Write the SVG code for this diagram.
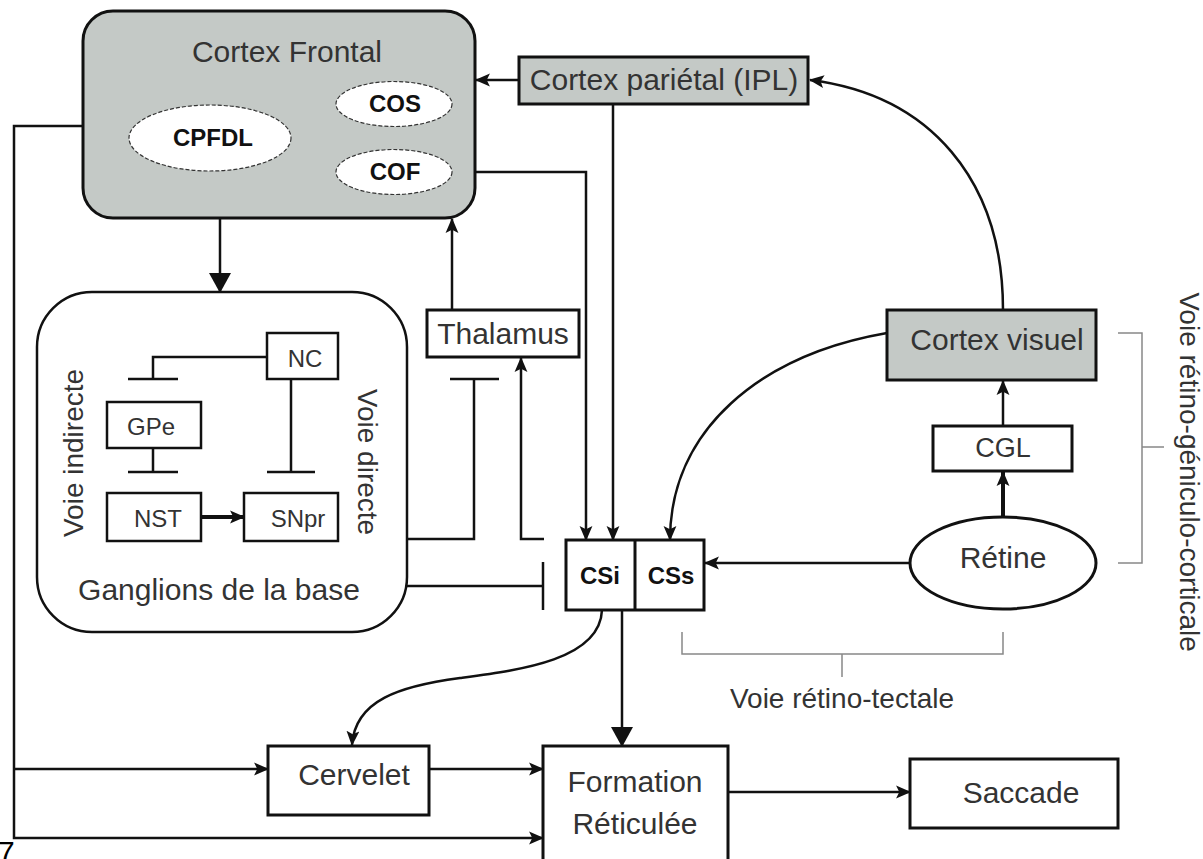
<svg xmlns="http://www.w3.org/2000/svg" width="1203" height="859" viewBox="0 0 1203 859">
<defs>
<style>
text{font-family:"Liberation Sans",Arial,Helvetica,sans-serif;fill:#333;}
.t30{font-size:30px;text-anchor:middle;}
.t24{font-size:24px;text-anchor:middle;}
.b24{font-size:24px;font-weight:bold;text-anchor:middle;fill:#111;}
.t28{font-size:28px;text-anchor:middle;}
.box{fill:#fff;stroke:#111;stroke-width:3;}
.gbox{fill:#c4c9c6;stroke:#111;stroke-width:3;}
.sbox{fill:#fff;stroke:#111;stroke-width:2.5;}
.ell{fill:#fff;stroke:#333;stroke-width:1.2;stroke-dasharray:4 2;}
.ln{fill:none;stroke:#111;stroke-width:2.5;}
.thk{fill:none;stroke:#111;stroke-width:4;}
.gr{fill:none;stroke:#888;stroke-width:1.5;}
</style>
<marker id="arr" viewBox="0 0 14 14" refX="13" refY="7" markerWidth="15" markerHeight="15" markerUnits="userSpaceOnUse" orient="auto">
<path d="M0,1 L14,7 L0,13 L3,7 z" fill="#111"/>
</marker>
<marker id="arrL" viewBox="0 0 20 22" refX="19" refY="11" markerWidth="20" markerHeight="22" markerUnits="userSpaceOnUse" orient="auto">
<path d="M0,0 L20,11 L0,22 z" fill="#111"/>
</marker>
</defs>
<rect width="1203" height="859" fill="#fff"/>

<g id="connectors">
<path class="ln" d="M220,218 L220,292" marker-end="url(#arrL)"/>
<path class="ln" d="M519,80 L476,80" marker-end="url(#arr)"/>
<path class="ln" d="M613,104 L613,540" marker-end="url(#arr)"/>
<path class="ln" d="M475,172 L586,172 L586,540" marker-end="url(#arr)"/>
<path class="ln" d="M452,310 L452,219" marker-end="url(#arr)"/>
<path class="ln" d="M544,539 L521,539 L521,358" marker-end="url(#arr)"/>
<path class="ln" d="M407,539 L474,539 L474,379"/>
<path class="ln" d="M450,379 L499,379"/>
<path class="ln" d="M407,586 L543,586"/>
<path class="ln" d="M543,562 L543,610"/>
<path class="ln" d="M1003,310 C1003,180 930,95 810,80" marker-end="url(#arr)"/>
<path class="ln" d="M887,333 C760,355 670,430 670,540" marker-end="url(#arr)"/>
<path class="ln" d="M910,563 L705,563" marker-end="url(#arr)"/>
<path class="thk" d="M1003,517 L1003,472" marker-end="url(#arr)"/>
<path class="ln" d="M1003,426 L1003,381" marker-end="url(#arr)"/>
<path class="ln" d="M622,610 L622,746" marker-end="url(#arrL)"/>
<path class="ln" d="M602,610 C600,660 520,670 460,678 C400,686 355,700 352,745" marker-end="url(#arr)"/>
<path class="ln" d="M83,126 L14,126 L14,838 L543,838" marker-end="url(#arr)"/>
<path class="ln" d="M14,769 L268,769" marker-end="url(#arr)"/>
<path class="ln" d="M429,769 L543,769" marker-end="url(#arr)"/>
<path class="ln" d="M728,792 L910,792" marker-end="url(#arr)"/>
<path class="gr" d="M1118,333 L1142,333 L1142,563 L1118,563 M1142,447 L1164,447"/>
<path class="gr" d="M682,632 L682,654 L1003,654 L1003,632 M842,654 L842,677"/>
</g>

<g id="cortex-frontal">
<rect class="gbox" x="83" y="11" width="392" height="207" rx="30"/>
<text class="t30" x="287" y="62">Cortex Frontal</text>
</g>
<g id="cpfdl">
<ellipse class="ell" cx="210" cy="138" rx="81" ry="33"/>
<text class="b24" x="213" y="146">CPFDL</text>
</g>
<g id="cos">
<ellipse class="ell" cx="394" cy="104" rx="58" ry="22.5"/>
<text class="b24" x="395" y="112">COS</text>
</g>
<g id="cof">
<ellipse class="ell" cx="394" cy="172" rx="58" ry="22.5"/>
<text class="b24" x="395" y="180">COF</text>
</g>

<g id="cortex-parietal">
<rect class="gbox" x="519" y="57" width="289" height="47"/>
<text class="t30" x="664" y="90">Cortex pariétal (IPL)</text>
</g>

<g id="ganglions">
<rect class="sbox" x="37" y="292" width="370" height="340" rx="55"/>
<text class="t30" x="219" y="600">Ganglions de la base</text>
<text class="t28" transform="translate(83,453) rotate(-90)">Voie indirecte</text>
<text class="t28" transform="translate(358,462) rotate(90)">Voie directe</text>
</g>
<g id="ganglions-inner">
<path class="ln" d="M267,357 L153,357 L153,379 M128,379 L178,379"/>
<path class="ln" d="M153,448 L153,472 M128,472 L178,472"/>
<path class="ln" d="M291,379 L291,472 M267,472 L315,472"/>
<path class="thk" d="M201,517 L244,517" marker-end="url(#arr)"/>
</g>
<g id="nc">
<rect class="sbox" x="267" y="333" width="71" height="46"/>
<text class="t24" x="305" y="367">NC</text>
</g>
<g id="gpe">
<rect class="sbox" x="107" y="402" width="94" height="46"/>
<text class="t24" x="151" y="435">GPe</text>
</g>
<g id="nst">
<rect class="sbox" x="107" y="493" width="94" height="48"/>
<text class="t24" x="158" y="527">NST</text>
</g>
<g id="snpr">
<rect class="sbox" x="244" y="493" width="94" height="48"/>
<text class="t24" x="298" y="527">SNpr</text>
</g>

<g id="thalamus">
<rect class="box" x="427" y="310" width="152" height="47"/>
<text class="t30" x="503" y="344">Thalamus</text>
</g>

<g id="cs">
<rect class="box" x="566" y="540" width="138" height="70"/>
<line x1="635" y1="540" x2="635" y2="610" stroke="#111" stroke-width="3"/>
<text class="b24" x="600" y="584">CSi</text>
<text class="b24" x="671" y="584">CSs</text>
</g>

<g id="cortex-visuel">
<rect class="gbox" x="887" y="310" width="209" height="70"/>
<text class="t30" x="997" y="350">Cortex visuel</text>
</g>
<g id="cgl">
<rect class="box" x="933" y="426" width="139" height="45"/>
<text class="t30" x="1003" y="457" style="font-size:27px">CGL</text>
</g>
<g id="retine">
<ellipse class="box" cx="1003" cy="563" rx="93" ry="46"/>
<text class="t30" x="1003" y="568">Rétine</text>
</g>

<g id="label-retino-tectale">
<text class="t28" x="842" y="708">Voie rétino-tectale</text>
</g>
<g id="label-retino-geniculo">
<text class="t28" transform="translate(1180,472) rotate(90)">Voie rétino-géniculo-corticale</text>
</g>

<g id="cervelet">
<rect class="box" x="268" y="746" width="161" height="69"/>
<text class="t30" x="354" y="785">Cervelet</text>
</g>
<g id="formation">
<path d="M543,862 L543,746 L728,746 L728,862" fill="#fff" stroke="#111" stroke-width="3"/>
<text class="t30" x="635" y="792">Formation</text>
<text class="t30" x="635" y="834">Réticulée</text>
</g>
<g id="saccade">
<rect class="box" x="910" y="759" width="208" height="69"/>
<text class="t30" x="1021" y="803">Saccade</text>
</g>
<g id="page-number">
<text x="-2" y="862" style="font-size:30px;fill:#000">7</text>
</g>
</svg>
